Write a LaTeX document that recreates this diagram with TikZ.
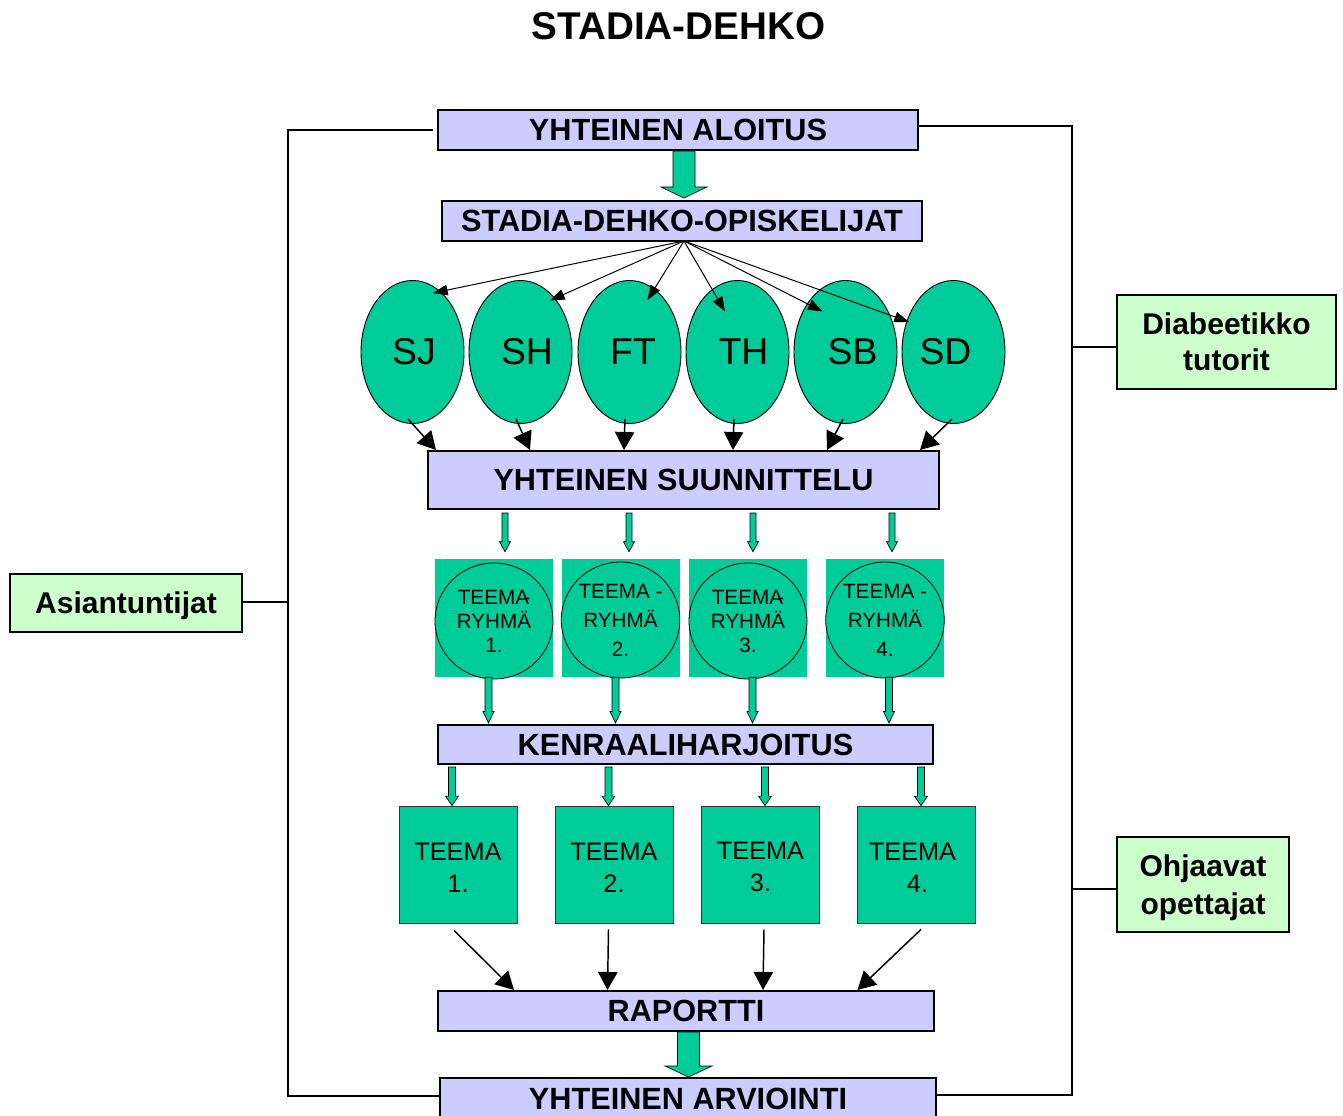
\documentclass[tikz,border=0pt]{standalone}
\usepackage{fontspec}
\setmainfont{Liberation Sans}
\usetikzlibrary{arrows.meta,calc,shapes.geometric}
\definecolor{tgreen}{HTML}{00CC99}
\definecolor{lav}{HTML}{CCCCFF}
\definecolor{lgreen}{HTML}{CCFFCC}
\def\px{0.75pt}
\tikzset{
 mainbox/.style={draw=black, line width=1.5pt, fill=lav, inner sep=0pt, font=\fontsize{23}{27}\selectfont\bfseries},
 sidebox/.style={draw=black, line width=1.1pt, fill=lgreen, inner sep=0pt, align=center, text depth=0pt, font=\fontsize{22.5}{27.5}\selectfont\bfseries},
 ell/.style={ellipse, draw=black, line width=0.7pt, fill=tgreen, inner sep=0pt, minimum width=103*\px, minimum height=143*\px, font=\fontsize{28}{30}\selectfont},
 gsq/.style={rectangle, fill=tgreen, inner sep=0pt, minimum size=118*\px},
 gcirc/.style={ellipse, draw=black, line width=0.6pt, fill=tgreen, inner sep=0pt, minimum width=118*\px, minimum height=116*\px, align=center},
 tbox/.style={rectangle, draw=black!80, line width=0.6pt, fill=tgreen, inner sep=0pt, minimum width=118*\px, minimum height=117*\px, align=center, font=\fontsize{19}{24}\selectfont},
 frame/.style={line width=1.5pt, draw=black},
 thinarr/.style={line width=0.75pt, -{Triangle[length=11pt,width=8pt]}},
 bigarr/.style={line width=1.1pt, -{Triangle[length=13.5pt,width=14.5pt]}},
 gar/.style={fill=tgreen, draw=black, line width=0.5pt, line join=miter},
}
% #1 x (px), #2 top anchor, #3 top gap, #4 bottom anchor, #5 bottom gap, #6 half shaft, #7 half head, #8 head length
\newcommand\garrow[8]{%
 \filldraw[gar] let \p1=(#2), \p2=(#4), \p3=(#1,0) in
  (\x3-#6*\px, \y1-#3*\px) -- (\x3+#6*\px, \y1-#3*\px)
  -- (\x3+#6*\px, \y2+#5*\px+#8*\px) -- (\x3+#7*\px, \y2+#5*\px+#8*\px)
  -- (\x3, \y2+#5*\px)
  -- (\x3-#7*\px, \y2+#5*\px+#8*\px) -- (\x3-#6*\px, \y2+#5*\px+#8*\px) -- cycle;}
\begin{document}
\begin{tikzpicture}[x=0.75pt,y=-0.75pt]
\useasboundingbox (0,0) rectangle (1343,1116);
\clip (0,0) rectangle (1343,1116);
\node[font=\fontsize{29}{32}\selectfont\bfseries] (title) at (678.5,26.5) {STADIA-DEHKO};
% main boxes
\node[mainbox, minimum width=480*\px, minimum height=40*\px] (ya) at (678,130) {YHTEINEN ALOITUS};
\node[mainbox, minimum width=480*\px, minimum height=40*\px] (sdo) at (682,221) {STADIA-DEHKO-OPISKELIJAT};
\node[mainbox, minimum width=511*\px, minimum height=58*\px] (ys) at (683.5,480) {YHTEINEN SUUNNITTELU};
\node[mainbox, minimum width=495*\px, minimum height=39*\px] (kh) at (685.5,744.5) {KENRAALIHARJOITUS};
\node[mainbox, minimum width=496*\px, minimum height=40*\px] (rap) at (686,1011) {RAPORTTI};
\node[mainbox, minimum width=496*\px, minimum height=42*\px] (arv) at (688,1099) {YHTEINEN ARVIOINTI};
% side boxes
\node[sidebox, minimum width=232*\px, minimum height=58*\px] (asi) at (126,603) {Asiantuntijat};
\node[sidebox, minimum width=219*\px, minimum height=94*\px, font=\fontsize{22.5}{27}\selectfont\bfseries] (dia) at (1226.5,342) {Diabeetikko\\tutorit};
\node[sidebox, minimum width=172*\px, minimum height=95*\px, font=\fontsize{22.5}{28.5}\selectfont\bfseries] (ohj) at (1203,884.5) {Ohjaavat\\opettajat};
% ellipses
\node[ell] (e1) at (412.5,352) {\hspace*{2.25pt}SJ};
\node[ell] (e2) at (520.5,352) {\hspace*{9.75pt}SH};
\node[ell] (e3) at (629.5,352) {\hspace*{5.25pt}FT};
\node[ell] (e4) at (737.5,352) {\hspace*{9pt}TH};
\node[ell] (e5) at (845.5,352) {\hspace*{10.5pt}SB};
\node[ell] (e6) at (953.5,352) {SD\hspace*{12pt}};
% group squares and circles
\node[gsq] (g1) at (494,618) {};
\node[gsq] (g2) at (620.5,618) {};
\node[gsq] (g3) at (748,618) {};
\node[gsq] (g4) at (885,618) {};
\node[gcirc, font=\fontsize{15.5}{18}\selectfont] (c1) at (494,621) {TEEMA\kern-0.28em-\\RYHMÄ\\1.};
\node[gcirc, font=\fontsize{15.5}{21.75}\selectfont] (c2) at (620.5,620) {TEEMA -\\RYHMÄ\hspace*{7.5pt}\\2.};
\node[gcirc, font=\fontsize{15.5}{18}\selectfont] (c3) at (748,621) {TEEMA\kern-0.28em-\\RYHMÄ\\3.};
\node[gcirc, font=\fontsize{15.5}{21.75}\selectfont] (c4) at (885,620) {TEEMA -\\RYHMÄ\hspace*{7.5pt}\\4.};
% teema boxes
\node[tbox] (t1) at (458,864.5) {\rule{0pt}{17.4pt}TEEMA\\1.};
\node[tbox] (t2) at (614,864.5) {\rule{0pt}{17.4pt}TEEMA\\2.};
\node[tbox] (t3) at (760.5,864.5) {\rule{0pt}{17.4pt}TEEMA\\3.};
\node[tbox] (t4) at (916.5,864.5) {\rule{0pt}{17.4pt}TEEMA\hspace*{6pt}\\\hspace*{1.5pt}4.};
% frame
\coordinate (frTL) at (288,130);
\coordinate (frBL) at (288,1096);
\coordinate (frTR) at (1072,126);
\coordinate (frBR) at (1072,1095);
\draw[frame] ([xshift=-3pt]ya.west) -- (frTL) -- (frBL) -- (arv.west |- frBL);
\draw[frame] (ya.east |- frTR) -- (frTR) -- (frBR) -- (arv.east |- frBR);
\coordinate (ac) at ($(asi.east)+(0,-1)$);
\coordinate (dc) at ($(dia.west)+(0,5)$);
\coordinate (oc) at ($(ohj.west)+(0,4.5)$);
\draw[frame] (ac) -- (ac -| frTL);
\draw[frame] (dc) -- (dc -| frTR);
\draw[frame] (oc) -- (oc -| frTR);
% thin arrows from the student box
\coordinate (apex) at (684,241);
\draw[thinarr] (apex) -- ($(e1.center)+(20.5,-59)$);
\draw[thinarr] (apex) -- ($(e2.center)+(29.5,-51.5)$);
\draw[thinarr] (apex) -- ($(e3.center)+(18,-52)$);
\draw[thinarr] (apex) -- ($(e4.center)+(-12.5,-40.5)$);
\draw[thinarr] (apex) -- ($(e5.center)+(-23,-40.5)$);
\draw[thinarr] (apex) -- ($(e6.center)+(-44.5,-30)$);
% ellipses to planning
\draw[bigarr] ($(e1.center)+(-4.5,67)$) -- ($(ys.north west)+(9,0)$);
\draw[bigarr] ($(e2.center)+(-4.5,67)$) -- ($(ys.north west)+(103,0)$);
\draw[bigarr] ($(e3.center)+(-4.5,67)$) -- ($(ys.north west)+(197,0)$);
\draw[bigarr] ($(e4.center)+(-3.5,67)$) -- ($(ys.north west)+(306,0)$);
\draw[bigarr] ($(e5.center)+(-2.5,67)$) -- ($(ys.north west)+(400,0)$);
\draw[bigarr] ($(e6.center)+(-1.5,67)$) -- ($(ys.north west)+(493,0)$);
% teema to raportti
\draw[bigarr] ($(t1.south)+(-4,7)$) -- ($(rap.north west)+(77,0)$);
\draw[bigarr] ($(t2.south)+(-5.5,6)$) -- ($(rap.north west)+(170.5,0)$);
\draw[bigarr] ($(t3.south)+(3.5,6)$) -- ($(rap.north west)+(326,0)$);
\draw[bigarr] ($(t4.south)+(4.5,6)$) -- ($(rap.north west)+(420.5,0)$);
% green block arrows
\garrow{684}{ya.south}{0}{sdo.north}{2}{11}{23}{11}
\garrow{505}{ys.south}{3}{g1.north}{7}{3}{5.5}{10}
\garrow{629}{ys.south}{3}{g2.north}{7}{3}{5.5}{10}
\garrow{753}{ys.south}{3}{g3.north}{7}{3}{5.5}{10}
\garrow{892}{ys.south}{3}{g4.north}{7}{3}{5.5}{10}
\garrow{488.5}{g1.south}{0}{kh.north}{1}{3.5}{5.5}{11.5}
\garrow{615.5}{g2.south}{0}{kh.north}{1}{3.5}{5.5}{11.5}
\garrow{752.5}{g3.south}{0}{kh.north}{1}{3.5}{5.5}{11.5}
\garrow{889}{g4.south}{0}{kh.north}{1}{3.5}{5.5}{11.5}
\garrow{452}{kh.south}{2}{t1.north}{0}{3.5}{6.5}{9.5}
\garrow{608.5}{kh.south}{2}{t2.north}{0}{3.5}{6.5}{9.5}
\garrow{765}{kh.south}{2}{t3.north}{0}{3.5}{6.5}{9.5}
\garrow{921}{kh.south}{2}{t4.north}{0}{3.5}{6.5}{9.5}
\garrow{688.5}{rap.south}{0}{arv.north}{0}{11}{23.5}{11}
\end{tikzpicture}
\end{document}
